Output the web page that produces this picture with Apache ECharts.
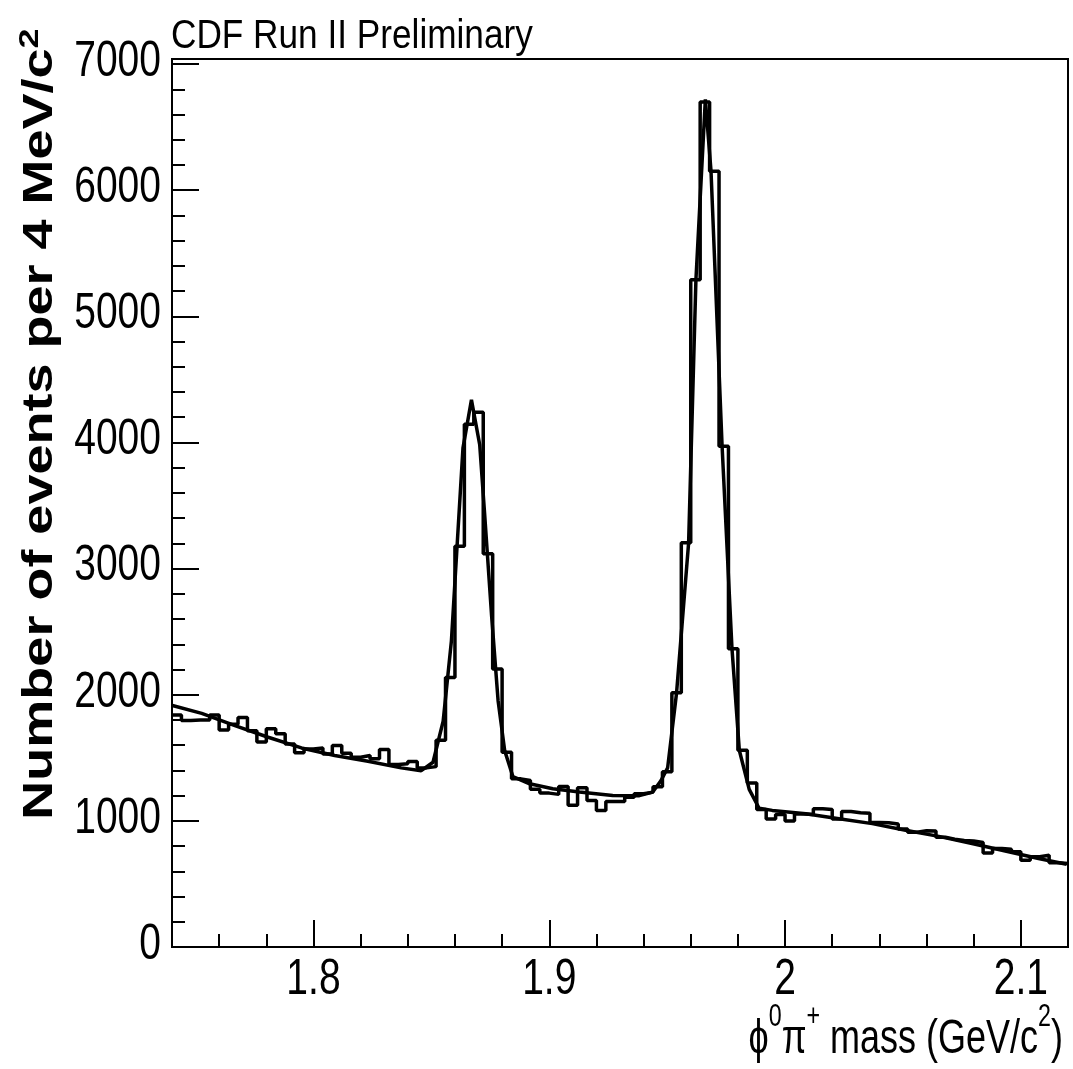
<!DOCTYPE html>
<html>
<head>
<meta charset="utf-8">
<script src="https://cdn.jsdelivr.net/npm/echarts@6/dist/echarts.min.js"></script>
<style>
  html, body { margin: 0; padding: 0; background: #fff; }
  #chart { width: 1073px; height: 1069px; }
</style>
</head>
<body>
<div id="chart"></div>
<script>
// histogram: 4 MeV bins from 1.74 GeV
const binStart = 1.74
const binWidth = 0.004
const counts = [
  1840, 1795, 1800, 1800, 1840, 1720, 1765, 1820, 1715, 1625,
  1730, 1690, 1610, 1540, 1570, 1578, 1530, 1597, 1536, 1505,
  1518, 1492, 1565, 1447, 1452, 1470, 1420, 1430, 1640, 2137,
  3178, 4145, 4240, 3117, 2203, 1544, 1333, 1320, 1250, 1220,
  1210, 1273, 1123, 1262, 1162, 1083, 1154, 1154, 1188, 1215,
  1228, 1270, 1390, 2016, 3204, 5290, 6700, 6150, 3970, 2364,
  1560, 1300, 1090, 1015, 1050, 999, 1055, 1050, 1096, 1090,
  1015, 1075, 1065, 1060, 988, 985, 975, 935, 910, 922,
  920, 870, 855, 845, 841, 828, 746, 780, 775, 755,
  688, 715, 727, 668, 662
]

// fit curve
const fitMass = [
  1.7402, 1.7526, 1.7667, 1.7808, 1.7949, 1.8090, 1.8231, 1.8372, 1.8457, 1.8507,
  1.8550, 1.8585, 1.8607, 1.8634, 1.8670, 1.8705, 1.8726, 1.8755, 1.8783, 1.8811,
  1.8846, 1.8917, 1.9015, 1.9128, 1.9269, 1.9382, 1.9439, 1.9474, 1.9502, 1.9540,
  1.9591, 1.9622, 1.9662, 1.9686, 1.9733, 1.9775, 1.9806, 1.9848, 1.9890, 1.9946,
  2.0088, 2.0229, 2.0370, 2.0511, 2.0652, 2.0793, 2.0934, 2.1075, 2.1194
]
const fitValue = [
  1915, 1852, 1755, 1663, 1578, 1518, 1473, 1420, 1398, 1465,
  1790, 2427, 3115, 3955, 4338, 3982, 3429, 2638, 1953, 1557,
  1350, 1294, 1255, 1228, 1202, 1200, 1228, 1320, 1420, 2016,
  3204, 5290, 6720, 6150, 3970, 2364, 1560, 1250, 1100, 1083,
  1057, 1017, 978, 925, 877, 820, 761, 701, 656
]

const xMajorTicks = [1.8, 1.9, 2, 2.1]
const xTickLabels = ['1.8', '1.9', '2', '2.1']
const xMinorTicks = [1.76, 1.78, 1.82, 1.84, 1.86, 1.88, 1.92, 1.94, 1.96, 1.98, 2.02, 2.04, 2.06, 2.08]
const yMajorTicks = [0, 1000, 2000, 3000, 4000, 5000, 6000, 7000]
const yTickLabels = ['0', '1000', '2000', '3000', '4000', '5000', '6000', '7000']
const yMinorTicks = [
  200, 400, 600, 800, 1200, 1400, 1600, 1800, 2200, 2400, 2600, 2800,
  3200, 3400, 3600, 3800, 4200, 4400, 4600, 4800, 5200, 5400, 5600, 5800,
  6200, 6400, 6600, 6800
]

const histData = counts.map((c, i) => [binStart + i * binWidth, c])
histData.push([binStart + counts.length * binWidth, counts[counts.length - 1]])
const fitData = fitMass.map((m, i) => [m, fitValue[i]])

const sansFont = '"Liberation Sans", Arial, sans-serif'

var myChart = echarts.init(document.getElementById('chart'), null, { renderer: 'canvas' })

function tickAxis(min, max, position, major, minor) {
  // two overlapping axes: long major ticks, short minor ticks
  return [
    {
      type: 'value',
      min: min,
      max: max,
      position: position,
      axisLine: { show: true, onZero: false, lineStyle: { color: '#000', width: 2 } },
      axisTick: { show: true, inside: true, length: 27, customValues: major, lineStyle: { color: '#000', width: 2 } },
      axisLabel: { show: false },
      splitLine: { show: false }
    },
    {
      type: 'value',
      min: min,
      max: max,
      position: position,
      axisLine: { show: false, onZero: false },
      axisTick: { show: true, inside: true, length: 13, customValues: minor, lineStyle: { color: '#000', width: 2 } },
      axisLabel: { show: false },
      splitLine: { show: false }
    }
  ]
}

var option = {
  animation: false,
  backgroundColor: '#fff',
  grid: {
    left: 172,
    right: 5,
    top: 59,
    bottom: 122,
    show: true,
    borderColor: '#000',
    borderWidth: 2,
    backgroundColor: 'transparent'
  },
  xAxis: tickAxis(1.74, 2.12, 'bottom', xMajorTicks, xMinorTicks),
  yAxis: tickAxis(0, 7040, 'left', yMajorTicks, yMinorTicks),
  series: [
    {
      type: 'line',
      name: 'data',
      data: histData,
      step: 'end',
      showSymbol: false,
      xAxisIndex: 0,
      yAxisIndex: 0,
      lineStyle: { color: '#000', width: 3.5 }
    },
    {
      type: 'line',
      name: 'fit',
      data: fitData,
      showSymbol: false,
      xAxisIndex: 0,
      yAxisIndex: 0,
      lineStyle: { color: '#000', width: 3.5 }
    }
  ]
}

myChart.setOption(option)

// tick labels in a narrow face, placed with the axes' own scales
var graphics = []
xMajorTicks.forEach(function (v, i) {
  graphics.push({
    type: 'text',
    x: myChart.convertToPixel({ xAxisIndex: 0 }, v),
    y: 980,
    scaleX: 0.78,
    style: { text: xTickLabels[i], fontFamily: sansFont, fontSize: 50, fill: '#000', align: 'center', verticalAlign: 'middle' }
  })
})
yMajorTicks.forEach(function (v, i) {
  graphics.push({
    type: 'text',
    x: 161,
    y: myChart.convertToPixel({ yAxisIndex: 0 }, v) - 2,
    scaleX: 0.78,
    style: { text: yTickLabels[i], fontFamily: sansFont, fontSize: 50, fill: '#000', align: 'right', verticalAlign: 'middle' }
  })
})

graphics.push(
  {
    type: 'text',
    x: 171,
    y: 17,
    scaleX: 0.88,
    style: {
      text: 'CDF Run II Preliminary',
      fontFamily: sansFont,
      fontSize: 40,
      fill: '#000',
      align: 'left',
      verticalAlign: 'top'
    }
  },
  {
    type: 'text',
    x: 40,
    y: 424,
    rotation: Math.PI / 2,
    scaleY: 0.79,
    style: {
      text: '{t|Number of events per 4 MeV/c}{s|2}',
      align: 'center',
      verticalAlign: 'middle',
      fill: '#000',
      rich: {
        t: { fontFamily: sansFont, fontWeight: 'bold', fontSize: 54, lineHeight: 62, fill: '#000' },
        s: { fontFamily: sansFont, fontWeight: 'bold', fontSize: 36, fill: '#000', verticalAlign: 'top' }
      }
    }
  },
  {
    type: 'text',
    x: 1063,
    y: 1078,
    scaleX: 0.75,
    style: {
      text: '{t|ϕ}{s|0}{t|π}{s|+}{t| mass (GeV/c}{s|2}{t|)}',
      align: 'right',
      verticalAlign: 'bottom',
      fill: '#000',
      rich: {
        t: { fontFamily: '"Liberation Sans", "DejaVu Sans", sans-serif', fontSize: 48, lineHeight: 76, fill: '#000' },
        s: { fontFamily: '"Liberation Sans", "DejaVu Sans", sans-serif', fontSize: 31, fill: '#000', verticalAlign: 'top' }
      }
    }
  }
)

myChart.setOption({ graphic: graphics })
</script>
</body>
</html>
